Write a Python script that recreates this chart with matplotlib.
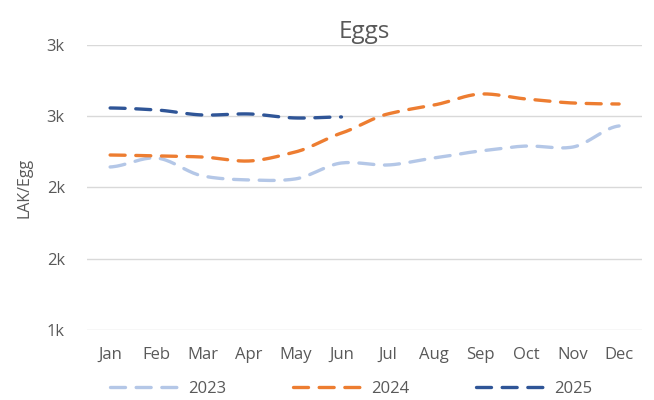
import numpy as np
import matplotlib
matplotlib.use("Agg")
import matplotlib.pyplot as plt

months = ["Jan", "Feb", "Mar", "Apr", "May", "Jun",
          "Jul", "Aug", "Sep", "Oct", "Nov", "Dec"]
eggs_2023 = [2144, 2207, 2081, 2053, 2060, 2172, 2158, 2207, 2256, 2291, 2284, 2432]
eggs_2024 = [2228, 2221, 2214, 2186, 2249, 2382, 2516, 2579, 2656, 2621, 2593, 2586]
eggs_2025 = [2558, 2544, 2509, 2516, 2488, 2495]
tick_vals = [1000, 1500, 2000, 2500, 3000]
tick_labels = ["1k", "2k", "2k", "3k", "3k"]


def smooth(y, n=20):
    # Catmull-Rom style smoothing like Excel's smoothed line
    y = np.asarray(y, dtype=float)
    x = np.arange(len(y), dtype=float)
    xs, ys = [], []
    for i in range(len(y) - 1):
        p0 = y[i - 1] if i > 0 else y[i]
        p1, p2 = y[i], y[i + 1]
        p3 = y[i + 2] if i + 2 < len(y) else y[i + 1]
        t = np.linspace(0, 1, n, endpoint=False)
        m1 = (p2 - p0) / 2 * (0.8 if i > 0 else 0.5)
        m2 = (p3 - p1) / 2 * (0.8 if i + 2 < len(y) else 0.5)
        h00 = 2 * t**3 - 3 * t**2 + 1
        h10 = t**3 - 2 * t**2 + t
        h01 = -2 * t**3 + 3 * t**2
        h11 = t**3 - t**2
        xs.extend(x[i] + t)
        ys.extend(h00 * p1 + h10 * m1 + h01 * p2 + h11 * m2)
    xs.append(x[-1])
    ys.append(y[-1])
    return np.array(xs), np.array(ys)


plt.rcParams['font.family'] = ['Open Sans', 'DejaVu Sans']
text_col = "#595959"

fig = plt.figure(figsize=(6.54, 4.0), dpi=100)
ax = fig.add_axes([0.133, 0.175, 0.849, 0.7125])

series = [("2023", eggs_2023, "#B4C7E7"),
          ("2024", eggs_2024, "#ED7D31"),
          ("2025", eggs_2025, "#2F5597")]
for name, vals, col in series:
    xs, ys = smooth(vals)
    ax.plot(xs, ys, color=col, lw=2.4, dashes=(4.5, 3.2),
            dash_capstyle="round", solid_capstyle="round", label=name)

ax.set_xlim(-0.5, 11.5)
ax.set_ylim(1000, 3000)
ax.set_yticks(tick_vals)
ax.set_yticklabels(tick_labels)
ax.set_xticks(range(12))
ax.set_xticklabels(months)
ax.grid(axis="y", color="#D9D9D9", lw=1)
ax.set_axisbelow(True)
for s in ax.spines.values():
    s.set_visible(False)
ax.tick_params(length=0, colors=text_col, labelsize=12)
ax.tick_params(axis="x", pad=12)
ax.tick_params(axis="y", pad=16)
ax.set_title("Eggs", fontsize=17.5, color=text_col, pad=5)
ax.set_ylabel("LAK/Egg", fontsize=11.5, color=text_col, labelpad=10)

fig.legend(loc="center", bbox_to_anchor=(0.537, 0.028), ncol=3, frameon=False,
           fontsize=12, labelcolor=text_col, handlelength=4.4,
           columnspacing=4.0, handletextpad=0.3)

fig.savefig("out.png", dpi=100)
